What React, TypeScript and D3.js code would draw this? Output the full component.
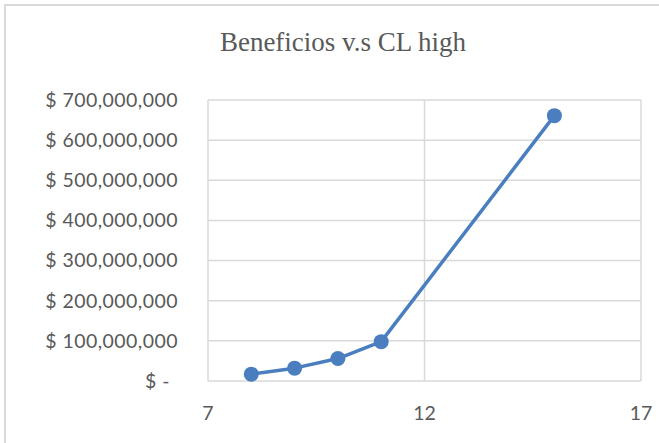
import React from "react";
import * as d3 from "d3";

// Series: CL high vs. beneficios
const clValues = [8, 9, 10, 11, 15];
const beneficios = [17000000, 32000000, 56000000, 98000000, 661000000];
const yTicks = [0, 100000000, 200000000, 300000000, 400000000, 500000000, 600000000, 700000000];
const xTicks = [7, 12, 17];
const title = "Beneficios v.s CL high";

const W = 659;
const H = 443;
const plot = { left: 208, right: 641, top: 100, bottom: 381 };
const lineColor = "#4a7ebf";
const gridColor = "#d9d9d9";
const textColor = "#595959";

const fmtMoney = (v: number) => (v === 0 ? "$ -" : "$ " + d3.format(",")(v));

export default function App() {
  const x = d3.scaleLinear().domain([7, 17]).range([plot.left, plot.right]);
  const y = d3.scaleLinear().domain([0, 700000000]).range([plot.bottom, plot.top]);
  const pts = clValues.map((c, i) => [c, beneficios[i]] as [number, number]);
  const line = d3
    .line<[number, number]>()
    .x((d) => x(d[0]))
    .y((d) => y(d[1]));

  return (
    <svg
      width={W}
      height={H}
      style={{ position: "absolute", left: 0, top: 0, background: "#fff" }}
    >
      {/* chart frame */}
      <path d={`M5,${H} V5 H${W}`} fill="none" stroke={gridColor} strokeWidth={2} />
      <text
        x={343}
        y={51}
        textAnchor="middle"
        fontFamily="'Liberation Serif', 'Times New Roman', serif"
        fontSize={27}
        fill={textColor}
      >
        {title}
      </text>
      {/* horizontal gridlines */}
      {yTicks.map((t) => (
        <line
          key={"h" + t}
          x1={plot.left}
          x2={plot.right}
          y1={y(t)}
          y2={y(t)}
          stroke={gridColor}
          strokeWidth={1.5}
        />
      ))}
      {/* vertical gridlines */}
      {xTicks.map((t) => (
        <line
          key={"v" + t}
          x1={x(t)}
          x2={x(t)}
          y1={plot.top}
          y2={plot.bottom}
          stroke={gridColor}
          strokeWidth={1.5}
        />
      ))}
      {/* y labels */}
      {yTicks.map((t) => (
        <text
          key={"yl" + t}
          x={t === 0 ? 170 : 178}
          y={y(t)}
          dy="0.35em"
          textAnchor="end"
          fontFamily="Lato, 'Open Sans', sans-serif"
          fontSize={19.5}
          letterSpacing={0.45}
          fill={textColor}
        >
          {fmtMoney(t)}
        </text>
      ))}
      {/* x labels */}
      {xTicks.map((t) => (
        <text
          key={"xl" + t}
          x={x(t)}
          y={413}
          dy="0.35em"
          textAnchor="middle"
          fontFamily="Lato, 'Open Sans', sans-serif"
          fontSize={19.5}
          fill={textColor}
        >
          {t}
        </text>
      ))}
      <path d={line(pts) || ""} fill="none" stroke={lineColor} strokeWidth={3.5} strokeLinejoin="round" />
      {pts.map((p, i) => (
        <circle key={"p" + i} cx={x(p[0])} cy={y(p[1])} r={7.5} fill={lineColor} />
      ))}
    </svg>
  );
}
